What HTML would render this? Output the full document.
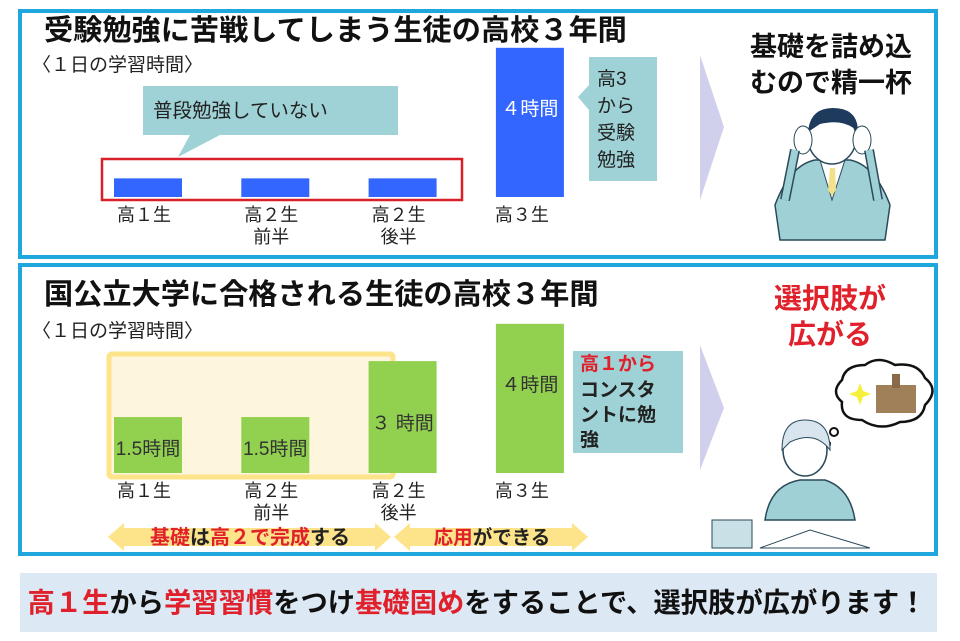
<!DOCTYPE html>
<html><head><meta charset="utf-8"><style>
html,body{margin:0;padding:0;background:#fff}
svg{display:block}
text{font-family:"Liberation Sans","Noto Sans CJK JP",sans-serif}
.b{font-weight:bold}
</style></head><body>
<svg id="c" width="960" height="641" viewBox="0 0 960 641">
  <rect x="0" y="0" width="960" height="641" fill="#fff"/>
  <rect x="20" y="11" width="916" height="246" fill="#fff" stroke="#1fa6dc" stroke-width="4"/>
  <rect x="20" y="265" width="916" height="289" fill="#fff" stroke="#1fa6dc" stroke-width="4"/>
  <text x="44" y="40" font-size="29.2" class="b" fill="#111">受験勉強に苦戦してしまう生徒の高校３年間</text>
  <text x="32" y="71" font-size="19" fill="#222">〈１日の学習時間〉</text>
  <text x="44" y="304" font-size="29.2" class="b" fill="#111">国公立大学に合格される生徒の高校３年間</text>
  <text x="32" y="337" font-size="19" fill="#222">〈１日の学習時間〉</text>

  <path d="M143 86 H398 V135 H220 L178 157 L190 135 H143 Z" fill="#9fd2d6"/>
  <text x="153" y="117" font-size="19.5" fill="#222">普段勉強していない</text>
  <rect x="102" y="159" width="360" height="41" fill="none" stroke="#d9202a" stroke-width="2.5"/>
  <path d="M589 57 H657 V181 H589 V110 L578 97 L589 85 Z" fill="#9fd2d6"/>
  <text font-size="19" fill="#222"><tspan x="597" y="85">高3</tspan><tspan x="597" y="112">から</tspan><tspan x="597" y="139">受験</tspan><tspan x="597" y="166">勉強</tspan></text>

  <rect x="109" y="354" width="284" height="123" fill="#fdf5dc" stroke="#fde38a" stroke-width="5" rx="3"/>
  <path d="M573 351 H683 V453 H573 Z" fill="#9fd2d6"/>
  <text font-size="19" class="b" fill="#222"><tspan x="580" y="370" fill="#e0202a">高１から</tspan><tspan x="580" y="396">コンスタ</tspan><tspan x="580" y="421">ントに勉</tspan><tspan x="580" y="446">強</tspan></text>

  <g id="topBars"></g>
  <g id="botBars"></g>

  <path d="M108 537 L124 523 V528 H375 V523 L391 537 L375 551 V546 H124 V551 Z" fill="#fde38a"/>
  <path d="M394 537 L410 523 V528 H572 V523 L588 537 L572 551 V546 H410 V551 Z" fill="#fde38a"/>
  <text x="250" y="544" font-size="20" class="b" text-anchor="middle" fill="#222"><tspan fill="#e0202a">基礎</tspan>は<tspan fill="#e0202a">高２で完成</tspan>する</text>
  <text x="492" y="544" font-size="19.5" class="b" text-anchor="middle" fill="#222"><tspan fill="#e0202a">応用</tspan>ができる</text>

  <path d="M700 55 L724 127 L700 200 Z" fill="#d0d0ec"/>
  <path d="M700 345 L724 408 L700 470 Z" fill="#d0d0ec"/>

  <text font-size="27" class="b" fill="#111" text-anchor="middle"><tspan x="831" y="56">基礎を詰め込</tspan><tspan x="831" y="92">むので精一杯</tspan></text>
  <text font-size="28" class="b" fill="#e0202a" text-anchor="middle"><tspan x="830" y="308">選択肢が</tspan><tspan x="830" y="344">広がる</tspan></text>

  <g>
    <path d="M775 205 Q790 165 815 160 L850 160 Q875 165 890 205 L885 240 H780 Z" fill="#9fd0d6" stroke="#2a4a5a" stroke-width="1.5"/>
    <path d="M820 160 L832 200 L845 160 Z" fill="#fff" stroke="#2a4a5a"/>
    <path d="M830 168 L835 168 L836 190 L832 196 L828 190 Z" fill="#f2e08a"/>
    <ellipse cx="832" cy="138" rx="24" ry="26" fill="#fff" stroke="#2a4a5a" stroke-width="1.5"/>
    <path d="M808 132 Q810 108 833 108 Q858 108 858 132 Q845 118 820 124 Z" fill="#1e3a5c"/>
    <ellipse cx="803" cy="140" rx="9" ry="14" fill="#fff" stroke="#2a4a5a"/>
    <ellipse cx="862" cy="140" rx="9" ry="14" fill="#fff" stroke="#2a4a5a"/>
    <path d="M795 150 L785 200 M869 150 L878 200" stroke="#2a4a5a" stroke-width="10" fill="none"/>
    <path d="M795 150 L785 200 M869 150 L878 200" stroke="#9fd0d6" stroke-width="7" fill="none"/>
  </g>
  <g>
    <path d="M842 380 Q845 365 865 365 Q878 355 895 365 Q918 362 925 378 Q940 390 925 405 Q922 422 900 422 Q880 432 862 420 Q840 420 842 402 Q830 392 842 380 Z" fill="#fff" stroke="#111" stroke-width="2.5"/>
    <rect x="876" y="385" width="40" height="28" fill="#a08058"/>
    <rect x="892" y="374" width="8" height="14" fill="#8a6a48"/>
    <path d="M860 383 l3 8 8 3 -8 3 -3 8 -3 -8 -8 -3 8 -3 Z" fill="#f7f03a"/>
    <circle cx="834" cy="432" r="4" fill="#fff" stroke="#111" stroke-width="2"/>
    <circle cx="827" cy="444" r="3" fill="#fff" stroke="#111" stroke-width="2"/>
    <path d="M765 520 Q770 485 800 480 L825 480 Q850 488 855 520 Z" fill="#9fd0d6" stroke="#2a4a5a" stroke-width="1.5"/>
    <ellipse cx="805" cy="450" rx="22" ry="26" fill="#fff" stroke="#2a4a5a" stroke-width="1.5"/>
    <path d="M782 450 Q782 420 805 420 Q830 420 830 450 Q815 430 790 442 Z" fill="#d8e4ee" stroke="#2a4a5a"/>
    <rect x="712" y="520" width="40" height="28" fill="#c8e0e6" stroke="#2a4a5a"/>
    <path d="M760 548 L810 530 L870 548 Z" fill="#fff" stroke="#2a4a5a"/>
  </g>

  <rect x="20" y="573" width="917" height="59" fill="#dde8f5"/>
  <text x="477" y="612" font-size="27.3" class="b" text-anchor="middle" fill="#111"><tspan fill="#e0202a">高１生</tspan>から<tspan fill="#e0202a">学習習慣</tspan>をつけ<tspan fill="#e0202a">基礎固め</tspan>をすることで、選択肢が広がります！</text>
</svg>
<script>
const categories = ["高１生|", "高２生|前半", "高２生|後半", "高３生|"];
const topHours = [0.5, 0.5, 0.5, 4];
const bottomHours = [1.5, 1.5, 3, 4];
const topLabels = ["", "", "", "４時間"];
const bottomLabels = ["1.5時間", "1.5時間", "３ 時間", "４時間"];

const NS = "http://www.w3.org/2000/svg";
const pxPerHour = 37.3;
const barW = 68;
function xPos(i){ return 114 + i * 127.3; }
function yTop(base, v){ return base - v * pxPerHour; }

function drawChart(gid, vals, labels, base, color, prefix, labelY, textColor){
  const g = document.getElementById(gid);
  vals.forEach((v, i) => {
    const r = document.createElementNS(NS, "rect");
    r.setAttribute("x", xPos(i));
    r.setAttribute("y", yTop(base, v));
    r.setAttribute("width", barW);
    r.setAttribute("height", base - yTop(base, v));
    r.setAttribute("fill", color);
    
    
    g.appendChild(r);
    if (labels[i]) {
      const t = document.createElementNS(NS, "text");
      t.setAttribute("x", xPos(i) + barW / 2);
      const h = base - yTop(base, v);
      t.setAttribute("y", v >= 4 ? yTop(base, v) + 67 : base - h * 0.45 + 7);
      t.setAttribute("text-anchor", "middle");
      t.setAttribute("font-size", "19");
      t.setAttribute("fill", textColor);
      t.textContent = labels[i];
      
      
      g.appendChild(t);
    }
    const parts = categories[i].split("|");
    parts.forEach((p, k) => {
      if (!p) return;
      const c = document.createElementNS(NS, "text");
      c.setAttribute("x", xPos(i) + (i === 3 ? 26 : barW / 2 - 4));
      c.setAttribute("y", labelY + k * 22);
      c.setAttribute("text-anchor", "middle");
      c.setAttribute("font-size", "18");
      c.setAttribute("fill", "#222");
      c.textContent = p;
      
      
      g.appendChild(c);
    });
  });
}
drawChart("topBars", topHours, topLabels, 197, "#3366ff", "top", 221, "#fff");
drawChart("botBars", bottomHours, bottomLabels, 473, "#92d050", "bottom", 497, "#333");
</script>
</body></html>
